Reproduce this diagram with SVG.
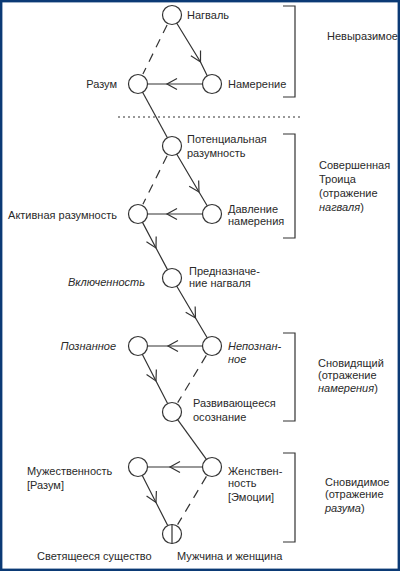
<svg xmlns="http://www.w3.org/2000/svg" width="400" height="571" viewBox="0 0 400 571">
<style>
text{font-family:"Liberation Sans",Arial,sans-serif;font-size:11px;fill:#2a2a2a}
.i{font-style:italic}
.n{fill:#fff;stroke:#333;stroke-width:1.2}
.c{fill:none;stroke:#333;stroke-width:1.2}
.a{marker-mid:url(#chev)}
.d{stroke-dasharray:9 7}
.b{fill:none;stroke:#333;stroke-width:1.2}
</style>
<defs>
<marker id="chev" markerUnits="userSpaceOnUse" markerWidth="14" markerHeight="14" viewBox="-12 -7 14 14" refX="0" refY="0" orient="auto">
<path d="M-10,-5.5 L0,0 L-10,5.5" fill="none" stroke="#333" stroke-width="1.2"/>
</marker>
</defs>
<rect x="0" y="0" width="400" height="571" fill="#fff"/>
<rect x="1.2" y="1.2" width="397.6" height="568.6" fill="none" stroke="#0b3a75" stroke-width="2.4"/>

<g id="connectors">
<path class="c a" d="M176.8,23.2 L200.5,62 L207.2,75.8"/>
<path class="c a" d="M202.5,84 L167,84 L147.5,84"/>
<path class="c d" d="M167.1,24.9 L142.9,74.1"/>
<path class="c" d="M142.6,92.3 L167.4,137.7"/>
<line class="c" x1="118" y1="117" x2="302" y2="117" stroke-dasharray="2 3"/>
<path class="c a" d="M176.8,154.2 L199,192 L207.2,205.8"/>
<path class="c a" d="M202.5,214 L167,214 L147.5,214"/>
<path class="c d" d="M167.1,155.8 L142.9,204.2"/>
<path class="c a" d="M142.5,222.4 L156,248 L167.5,269.6"/>
<path class="c a" d="M176.8,286.2 L195.5,318 L207.2,337.8"/>
<path class="c a" d="M202.5,346 L168,346 L147.5,346"/>
<path class="c a" d="M142.4,354.4 L156,381 L167.6,403.6"/>
<path class="c d" d="M206.3,355.4 L177.7,402.6"/>
<path class="c" d="M177.6,419.7 L206.4,459.3"/>
<path class="c a" d="M202.5,467 L170,467 L147.5,467"/>
<path class="c a" d="M142.3,475.5 L156,502.5 L167.7,525.5"/>
<path class="c d" d="M206.4,476.4 L177.6,524.6"/>
</g>

<g id="brackets">
<path class="b" d="M283,6 H295 V97 H283"/>
<path class="b" d="M283,134 H295 V238 H283"/>
<path class="b" d="M283,333 H295 V421 H283"/>
<path class="b" d="M283,453 H295 V542 H283"/>
</g>

<g id="nagval"><circle class="n" cx="172" cy="15" r="9.5"/><text x="187" y="19">Нагваль</text></g>
<g id="razum"><circle class="n" cx="138" cy="84" r="9.5"/><text x="117" y="88" text-anchor="end">Разум</text></g>
<g id="namerenie"><circle class="n" cx="212" cy="84" r="9.5"/><text x="228" y="88">Намерение</text></g>
<g id="potential"><circle class="n" cx="172" cy="146" r="9.5"/><text x="187" y="143">Потенциальная</text><text x="187" y="157">разумность</text></g>
<g id="active"><circle class="n" cx="138" cy="214" r="9.5"/><text x="117" y="219" text-anchor="end">Активная разумность</text></g>
<g id="davlenie"><circle class="n" cx="212" cy="214" r="9.5"/><text x="228" y="213">Давление</text><text x="228" y="225">намерения</text></g>
<g id="prednaznachenie"><circle class="n" cx="172" cy="278" r="9.5"/><text x="189" y="275">Предназначе-</text><text x="189" y="287">ние нагваля</text></g>
<g id="vkluchennost"><text class="i" x="145" y="286" text-anchor="end">Включенность</text></g>
<g id="poznannoe"><circle class="n" cx="138" cy="346" r="9.5"/><text class="i" x="116" y="350" text-anchor="end">Познанное</text></g>
<g id="nepoznannoe"><circle class="n" cx="212" cy="346" r="9.5"/><text class="i" x="228" y="350">Непознан-</text><text class="i" x="228" y="363">ное</text></g>
<g id="razvivayusheesya"><circle class="n" cx="172" cy="412" r="9.5"/><text x="193" y="407">Развивающееся</text><text x="193" y="421">осознание</text></g>
<g id="muzhestvennost"><circle class="n" cx="138" cy="467" r="9.5"/><text x="27" y="475">Мужественность</text><text x="27" y="489">[Разум]</text></g>
<g id="zhenstvennost"><circle class="n" cx="212" cy="467" r="9.5"/><text x="228" y="475">Женствен-</text><text x="228" y="487">ность</text><text x="228" y="501">[Эмоции]</text></g>
<g id="svet"><circle class="n" cx="172" cy="534" r="9.5"/><line class="c" x1="172" y1="524.5" x2="172" y2="543.5"/><text x="37" y="560">Светящееся существо</text><text x="177" y="560">Мужчина и женщина</text></g>

<g id="labels">
<text x="327" y="40">Невыразимое</text>
<text x="319" y="169">Совершенная</text>
<text x="319" y="183">Троица</text>
<text x="319" y="197">(отражение</text>
<text x="319" y="211"><tspan class="i">нагваля</tspan>)</text>
<text x="318" y="367">Сновидящий</text>
<text x="318" y="379">(отражение</text>
<text x="318" y="392"><tspan class="i">намерения</tspan>)</text>
<text x="325" y="486">Сновидимое</text>
<text x="325" y="498">(отражение</text>
<text x="325" y="512"><tspan class="i">разума</tspan>)</text>
</g>
</svg>
